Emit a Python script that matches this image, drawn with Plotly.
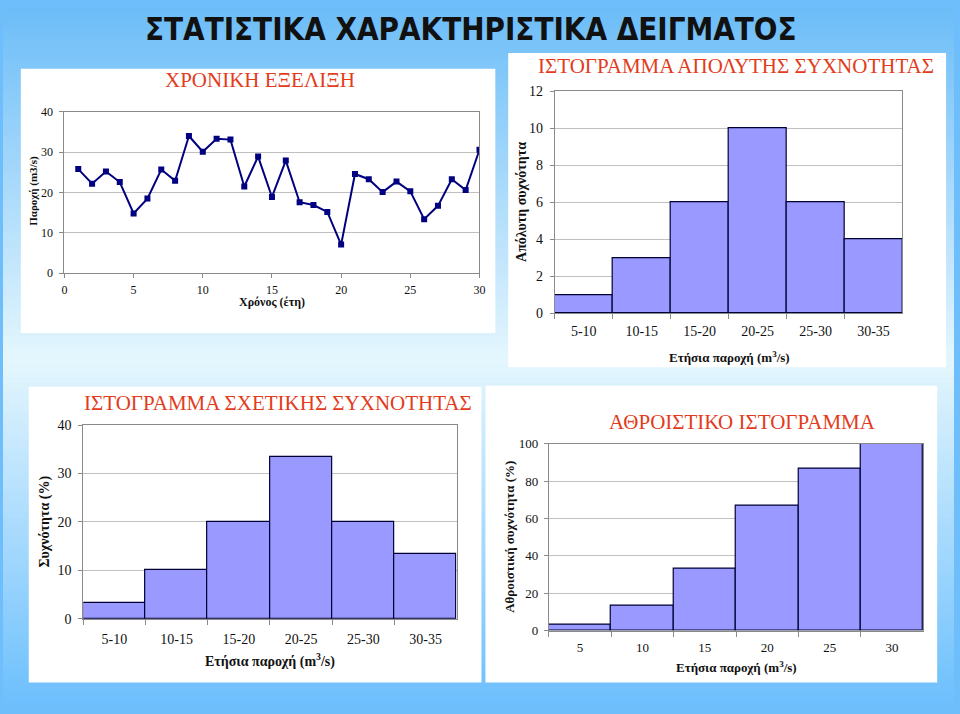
import plotly.graph_objects as go

# ---------------- data ----------------
years = list(range(1, 31))
flow = [25.8, 22.2, 25.2, 22.6, 14.8, 18.5, 25.7, 22.9, 34.0, 30.1,
        33.3, 33.1, 21.5, 28.9, 18.9, 27.9, 17.6, 16.9, 15.2, 7.1,
        24.6, 23.3, 20.1, 22.7, 20.3, 13.4, 16.7, 23.3, 20.6, 30.6]

classes = ["5-10", "10-15", "15-20", "20-25", "25-30", "30-35"]
abs_freq = [1, 3, 6, 10, 6, 4]
rel_freq = [3.33, 10.0, 20.0, 33.33, 20.0, 13.33]
cum_labels = ["5", "10", "15", "20", "25", "30"]
cum_freq = [3.33, 13.33, 33.33, 66.67, 86.67, 100.0]

main_title = "ΣΤΑΤΙΣΤΙΚΑ ΧΑΡΑΚΤΗΡΙΣΤΙΚΑ ΔΕΙΓΜΑΤΟΣ"
titles = ["ΧΡΟΝΙΚΗ ΕΞΕΛΙΞΗ", "ΙΣΤΟΓΡΑΜΜΑ ΑΠΟΛΥΤΗΣ ΣΥΧΝΟΤΗΤΑΣ",
          "ΙΣΤΟΓΡΑΜΜΑ ΣΧΕΤΙΚΗΣ ΣΥΧΝΟΤΗΤΑΣ", "ΑΘΡΟΙΣΤΙΚΟ ΙΣΤΟΓΡΑΜΜΑ"]
xq = "Ετήσια παροχή (m<sup>3</sup>/s)"

# ---------------- layout helpers ----------------
W, H = 960, 714
def fx(x): return x / W
def fy(y): return 1 - y / H

SERIF = "Liberation Serif, Times New Roman, serif"
RED = "#e23c1c"
GRID = "#c0c0c0"
AXL = "#8a8a8a"
BAR = "#9999ff"
BAREDGE = "#000033"

fig = go.Figure()

# time series
fig.add_trace(go.Scatter(x=years, y=flow, mode="lines+markers",
                         line=dict(color="#000080", width=2),
                         marker=dict(symbol="square", size=6, color="#000080"),
                         xaxis="x", yaxis="y", showlegend=False))
# histograms
for cats, vals, ax in [(classes, abs_freq, "2"), (classes, rel_freq, "3"), (cum_labels, cum_freq, "4")]:
    fig.add_trace(go.Bar(x=cats, y=vals, marker=dict(color=BAR, line=dict(color=BAREDGE, width=1.2)),
                         xaxis="x" + ax, yaxis="y" + ax, showlegend=False))

def yax(dom, rng, dt, anchor, fs, so):
    return dict(domain=[fy(dom[1]), fy(dom[0])], range=rng, dtick=dt, anchor=anchor,
                showgrid=True, gridcolor=GRID, gridwidth=1, zeroline=False,
                showline=True, linecolor=AXL, linewidth=1, mirror=True,
                ticks="outside", ticklen=4, tickcolor=AXL, ticklabelstandoff=so,
                tickfont=dict(family=SERIF, size=fs, color="#111"), fixedrange=True)

def xcat(dom, anchor, fs, so):
    return dict(domain=[fx(dom[0]), fx(dom[1])], type="category", anchor=anchor,
                showgrid=False, zeroline=False, showline=True, linecolor=AXL, linewidth=1,
                mirror=True, ticks="outside", ticklen=5, tickcolor=AXL, tickson="boundaries",
                ticklabelstandoff=so,
                tickfont=dict(family=SERIF, size=fs, color="#111"), fixedrange=True)

# plot areas (pixel boxes)
P1 = (62, 107, 481, 272)
P2 = (557, 86, 908, 313)
P3 = (81, 427, 458, 625)
P4 = (551, 446, 929, 637)

fig.update_layout(
    width=W, height=H, margin=dict(l=0, r=0, t=0, b=0),
    paper_bgcolor="#6dbefa", plot_bgcolor="white", bargap=0,
    xaxis=dict(domain=[fx(P1[0]), fx(P1[2])], range=[0, 30], dtick=5, anchor="y",
               showgrid=False, zeroline=False, showline=True, linecolor=AXL, mirror=True,
               ticks="outside", ticklen=4, tickcolor=AXL, ticklabelstandoff=1,
               tickfont=dict(family=SERIF, size=12, color="#111"), fixedrange=True),
    yaxis=yax((P1[1], P1[3]), [0, 40], 10, "x", 12, 4),
    xaxis2=xcat((P2[0], P2[2]), "y2", 14, 5),
    yaxis2=yax((P2[1], P2[3]), [0, 12], 2, "x2", 14, 4),
    xaxis3=xcat((P3[0], P3[2]), "y3", 14, 7),
    yaxis3=yax((P3[1], P3[3]), [0, 40], 10, "x3", 14, 4),
    xaxis4=xcat((P4[0], P4[2]), "y4", 13, 5),
    yaxis4=yax((P4[1], P4[3]), [0, 100], 20, "x4", 13, 3),
)

# background gradient bands
shapes = []
top = (0x6c, 0xbd, 0xf8); mid = (0xe4, 0xf6, 0xfd); bot = (0x6c, 0xbf, 0xfd)
band = 6
for y0 in range(0, H, band):
    yc = y0 + band / 2
    if yc < 360:
        t = yc / 360; a, b = top, mid
    else:
        t = (yc - 360) / (H - 360); a, b = mid, bot
    c = tuple(round(a[i] + (b[i] - a[i]) * t) for i in range(3))
    shapes.append(dict(type="rect", xref="paper", yref="paper", x0=0, x1=1,
                       y0=fy(min(y0 + band + 1, H)), y1=fy(y0), line=dict(width=0),
                       fillcolor="rgb(%d,%d,%d)" % c, layer="below"))
# white panels
for (x0, y0, x1, y1) in [(18, 63, 497, 333), (510, 47, 952, 368), (26, 388, 483, 690), (487, 387, 943, 690)]:
    shapes.append(dict(type="rect", xref="paper", yref="paper", x0=fx(x0), x1=fx(x1),
                       y0=fy(y1), y1=fy(y0), line=dict(width=0), fillcolor="white", layer="below"))
fig.update_layout(shapes=shapes)

ann = []
def text(x, y, s, size, color="#111", bold=False, angle=0, family=SERIF):
    ann.append(dict(x=fx(x), y=fy(y), xref="paper", yref="paper", text=("<b>%s</b>" % s) if bold else s,
                    showarrow=False, textangle=angle, xanchor="center", yanchor="middle",
                    font=dict(family=family, size=size, color=color)))

text(472, 22, main_title, 31, "#111", True, family="Liberation Sans Narrow, DejaVu Sans Condensed, Arial Narrow, sans-serif")
text(259, 75, titles[0], 21, RED)
text(740, 60, titles[1], 21, RED)
text(278, 404, titles[2], 21, RED)
text(747, 424, titles[3], 21, RED)

text(30, 188, "Παροχή (m3/s)", 11, bold=True, angle=-90)
text(272, 301, "Χρόνος (έτη)", 12, bold=True)
text(524, 199, "Απόλυτη συχνότητα", 14, bold=True, angle=-90)
text(733, 357, xq, 13, bold=True)
text(42, 526, "Συχνότητα (%)", 14, bold=True, angle=-90)
text(270, 668, xq, 14, bold=True)
text(511, 541, "Αθροιστική συχνότητα (%)", 13, bold=True, angle=-90)
text(740, 674, xq, 13, bold=True)
fig.update_layout(annotations=ann)

fig.write_html("out.html")
